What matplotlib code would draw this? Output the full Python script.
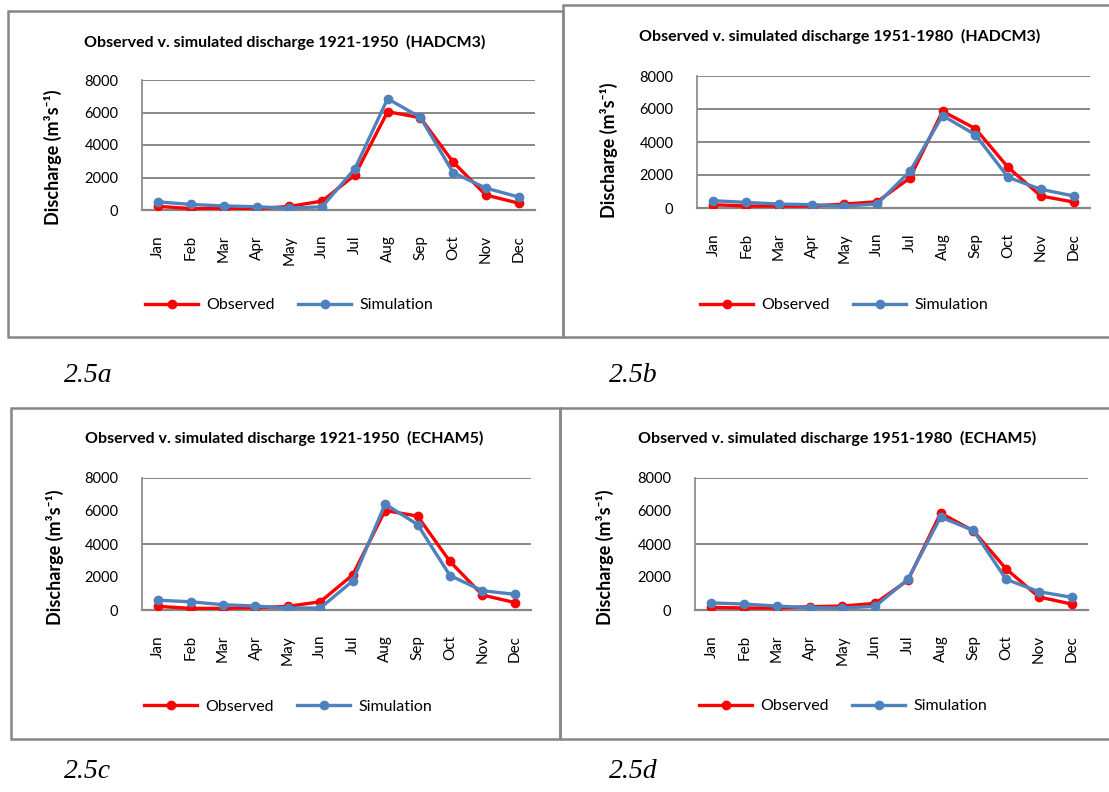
import matplotlib
matplotlib.use("Agg")
import matplotlib.pyplot as plt
from matplotlib.patches import Rectangle

months = ["Jan", "Feb", "Mar", "Apr", "May", "Jun",
          "Jul", "Aug", "Sep", "Oct", "Nov", "Dec"]
yticks = [0, 2000, 4000, 6000, 8000]

# HADCM3, 1921-1950
obs_a = [220, 90, 80, 80, 220, 550, 2150, 6050, 5680, 2950, 920, 420]
sim_a = [500, 340, 250, 200, 110, 200, 2540, 6850, 5700, 2300, 1350, 800]
# HADCM3, 1951-1980
obs_b = [200, 120, 120, 120, 240, 380, 1820, 5860, 4810, 2460, 730, 360]
sim_b = [440, 340, 240, 200, 120, 240, 2220, 5600, 4440, 1860, 1130, 730]
# ECHAM5, 1921-1950
obs_c = [220, 100, 100, 140, 220, 500, 2130, 6030, 5690, 2940, 910, 450]
sim_c = [590, 500, 320, 240, 120, 120, 1760, 6420, 5180, 2090, 1170, 950]
# ECHAM5, 1951-1980
obs_d = [160, 120, 120, 200, 240, 400, 1800, 5870, 4800, 2490, 790, 360]
sim_d = [430, 360, 240, 140, 120, 220, 1860, 5630, 4820, 1860, 1110, 770]

titles = [
    "Observed v. simulated discharge 1921-1950  (HADCM3)",
    "Observed v. simulated discharge 1951-1980  (HADCM3)",
    "Observed v. simulated discharge 1921-1950  (ECHAM5)",
    "Observed v. simulated discharge 1951-1980  (ECHAM5)",
]
tags = ["2.5a", "2.5b", "2.5c", "2.5d"]
grid_full = [2000, 4000, 6000, 8000]
grid_sparse = [4000, 8000]

W, H = 1109, 792
fig = plt.figure(figsize=(W / 100, H / 100), dpi=100)
fig.patch.set_facecolor("white")

SANS = ["Lato", "DejaVu Sans"]
GRAY = "#878787"
RED = "#ff0000"
BLUE = "#4f81bd"


def fx(x):
    return x / W


def fy(y):
    return 1 - y / H


def panel(frame, plot, title, title_xy, ylab_xy, leg_xy, obs, sim,
          grid_levels, tag, tag_xy):
    x0, y0, x1, y1 = frame
    fig.patches.append(Rectangle((fx(x0), fy(y1)), fx(x1) - fx(x0),
                                 fy(y0) - fy(y1), transform=fig.transFigure,
                                 fill=False, ec=GRAY, lw=1.8, zorder=0))
    px0, py0, px1, py1 = plot
    ax = fig.add_axes([fx(px0), fy(py1), fx(px1) - fx(px0), fy(py0) - fy(py1)])
    ax.set_facecolor("none")
    for lvl in grid_levels:
        ax.axhline(lvl, color=GRAY, lw=1.4, zorder=1)
    x = list(range(len(months)))
    ax.plot(x, obs, color=RED, lw=2.4, marker="o", ms=6, label="Observed",
            zorder=3)
    ax.plot(x, sim, color=BLUE, lw=2.4, marker="o", ms=6, label="Simulation",
            zorder=4)
    ax.set_xlim(-0.5, len(months) - 0.5)
    ax.set_ylim(0, 8000)
    ax.set_xticks(x)
    ax.set_xticklabels(months, rotation=90, family=SANS, fontsize=11)
    ax.set_yticks(yticks)
    ax.set_yticklabels([str(v) for v in yticks], family=SANS, fontsize=10.5)
    ax.tick_params(axis="both", length=0)
    ax.tick_params(axis="x", pad=18)
    ax.tick_params(axis="y", pad=17)
    for side in ("top", "right"):
        ax.spines[side].set_visible(False)
    ax.spines["left"].set_color(GRAY)
    ax.spines["bottom"].set_color(GRAY)
    ax.spines["left"].set_linewidth(1.2)
    ax.spines["bottom"].set_linewidth(1.6)

    fig.text(fx(title_xy[0]), fy(title_xy[1]), title, ha="center",
             va="center", family=SANS, fontsize=11.5, fontweight="bold")
    fig.text(fx(ylab_xy[0]), fy(ylab_xy[1]), "Discharge (m\u00b3s\u207b\u00b9)",
             ha="center", va="center", rotation=90, family=SANS,
             fontsize=13, fontweight="bold")
    ax.legend(loc="center", bbox_to_anchor=(fx(leg_xy[0]), fy(leg_xy[1])),
              bbox_transform=fig.transFigure, ncol=2, frameon=False,
              prop={"family": SANS, "size": 11.5}, handlelength=3.3,
              handletextpad=0.5, columnspacing=1.5)
    fig.text(fx(tag_xy[0]), fy(tag_xy[1]), tag, ha="left", va="center",
             family="Liberation Serif", style="italic", fontsize=20)
    return ax


panel((8, 11, 563, 337), (142, 80, 535, 210), titles[0], (285, 42),
      (53, 157), (289, 305), obs_a, sim_a, grid_full, tags[0], (64, 376))
panel((563, 5, 1120, 337), (697, 76, 1090, 208), titles[1], (840, 36),
      (609, 150), (844, 305), obs_b, sim_b, grid_full, tags[1], (609, 376))
panel((11, 408, 560, 739), (142, 478, 531, 610), titles[2], (284, 438),
      (55, 557), (288, 707), obs_c, sim_c, grid_sparse, tags[2], (64, 772))
panel((560, 408, 1120, 739), (695, 478, 1088, 610), titles[3], (837, 438),
      (605, 557), (843, 706), obs_d, sim_d, grid_sparse, tags[3], (609, 772))

fig.savefig("out.png", dpi=100, facecolor="white")
